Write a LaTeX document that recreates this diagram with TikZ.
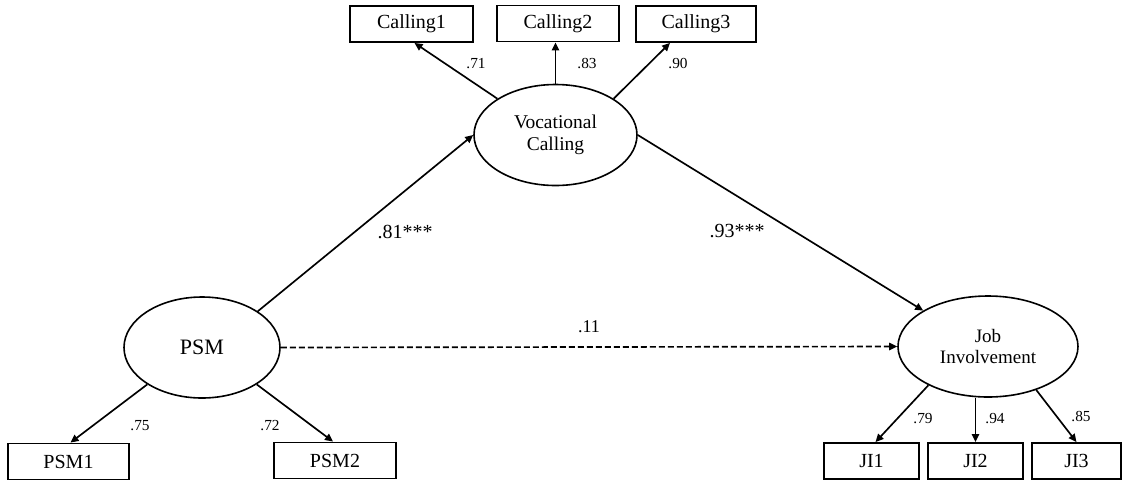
\documentclass[tikz,border=0pt]{standalone}
\usepackage{fontspec}
\setmainfont{Liberation Serif}
\usetikzlibrary{shapes.geometric,arrows.meta,calc}
\begin{document}
\begin{tikzpicture}[x=0.75pt,y=-0.75pt,
  obs/.style={draw,line width=1.4pt,rectangle,inner sep=0pt,minimum height=27pt,font=\fontsize{15}{18}\selectfont},
  lat/.style={draw,line width=1.2pt,ellipse,inner sep=0pt,align=center,minimum height=75.75pt},
  pathar/.style={line width=1.25pt,-{Triangle[length=6pt,width=5.5pt]}},
  lbl/.style={font=\fontsize{11.5}{13}\selectfont,inner sep=0pt},
  biglbl/.style={font=\fontsize{15}{18}\selectfont,inner sep=0pt}]
\useasboundingbox (0,0) rectangle (1122,480);
% observed indicators
\node[obs,minimum width=92.25pt] (c1) at (411.5,24) {Calling1};
\node[obs,minimum width=91.5pt] (c2) at (558,23.5) {Calling2};
\node[obs,minimum width=90pt] (c3) at (696,24) {Calling3};
\node[obs,minimum width=90.75pt] (p1) at (68.5,461.5) {PSM1};
\node[obs,minimum width=91.5pt] (p2) at (335,460.5) {PSM2};
\node[obs,minimum width=71.25pt] (j1) at (871.5,461) {JI1};
\node[obs,minimum width=71.25pt] (j2) at (975.5,461) {JI2};
\node[obs,minimum width=66.75pt] (j3) at (1076.5,461) {JI3};
% latent variables
\node[lat,minimum width=122.25pt,font=\fontsize{14.6}{17}\selectfont] (voc) at (555.5,135) {Vocational\\Calling};
\node[lat,minimum width=117pt,font=\fontsize{16.5}{19}\selectfont] (psm) at (202,347.5) {PSM};
\node[lat,minimum width=135pt,font=\fontsize{14.25}{15.5}\selectfont] (ji) at (988,346.5) {Job\\Involvement};
% connectors
\draw[pathar] (voc.148) -- ($(c1.south)+(3,0)$);
\draw[pathar] (voc.north) -- (voc.north |- c2.south);
\draw[pathar] (voc.32) -- ($(c3.south)+(-26,0)$);
\draw[pathar] (psm.33) -- (voc.west);
\draw[pathar] (voc.east) -- (ji.151);
\draw[pathar,dash pattern=on 4.5pt off 2.25pt] (psm.east) -- (ji.west);
\draw[pathar] (psm.214) -- ($(p1.north)+(2,0)$);
\draw[pathar] (psm.326) -- ($(p2.north)+(-2,0)$);
\draw[pathar] (ji.213) -- ($(j1.north)+(4,0)$);
\draw[pathar] (ji.south -| j2.north) -- (j2.north);
\draw[pathar] (ji.318) -- (j3.north);
% labels
\node[lbl] (l71) at (476,64) {.71};
\node[lbl] (l83) at (587,64) {.83};
\node[lbl] (l90) at (678,64) {.90};
\node[biglbl] (l81) at (405,232) {.81***};
\node[biglbl] (l93) at (737,231) {.93***};
\node[lbl,font=\fontsize{13.5}{16}\selectfont] (l11) at (589,327) {.11};
\node[lbl] (l75) at (140,426) {.75};
\node[lbl] (l72) at (270,426) {.72};
\node[lbl] (l79) at (923,419) {.79};
\node[lbl] (l94) at (995,419) {.94};
\node[lbl] (l85) at (1081,417) {.85};
\end{tikzpicture}
\end{document}
